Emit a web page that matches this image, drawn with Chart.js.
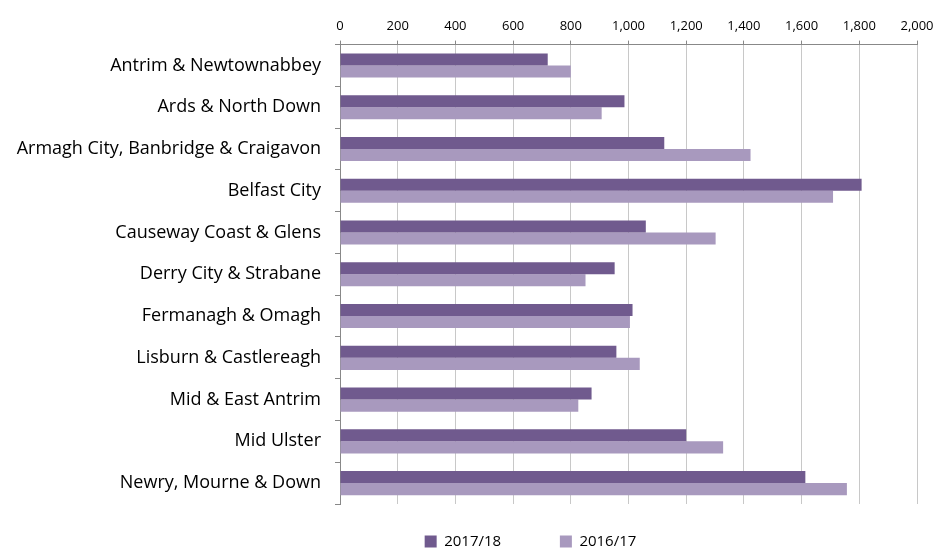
<!DOCTYPE html>
<html>
<head>
<meta charset="utf-8">
<script src="https://cdn.jsdelivr.net/npm/chart.js@4"></script>
<style>
  html, body { margin: 0; padding: 0; background: #fff; }
  #wrap { width: 935px; height: 549px; }
</style>
</head>
<body>
<div id="wrap"><canvas id="c"></canvas></div>
<script>
// Council areas, top to bottom as in the picture.
var COUNCILS = [
  "Antrim & Newtownabbey",
  "Ards & North Down",
  "Armagh City, Banbridge & Craigavon",
  "Belfast City",
  "Causeway Coast & Glens",
  "Derry City & Strabane",
  "Fermanagh & Omagh",
  "Lisburn & Castlereagh",
  "Mid & East Antrim",
  "Mid Ulster",
  "Newry, Mourne & Down"
];
var Y2017_18 = [720, 986, 1124, 1808, 1060, 952, 1014, 958, 872, 1200, 1613];
var Y2016_17 = [800, 907, 1423, 1709, 1302, 851, 1005, 1039, 826, 1328, 1757];
var X_MIN = 0, X_MAX = 2000, X_STEP = 200;

var FONT = "'Open Sans', 'Noto Sans', sans-serif";

// legend sits off-centre in the original, nudge it after layout
var LEGEND_DX = 63, LEGEND_DY = 18;
var legendNudge = {
  id: "legendNudge",
  afterLayout: function (chart) {
    var lg = chart.legend;
    if (!lg) return;
    lg.left += LEGEND_DX; lg.right += LEGEND_DX;
    lg.top += LEGEND_DY; lg.bottom += LEGEND_DY;
  }
};

new Chart(document.getElementById("c"), {
  type: "bar",
  data: {
    labels: COUNCILS,
    datasets: [
      { label: "2017/18", data: Y2017_18, backgroundColor: "#705a8e", borderWidth: 0 },
      { label: "2016/17", data: Y2016_17, backgroundColor: "#a899be", borderWidth: 0 }
    ]
  },
  plugins: [legendNudge],
  options: {
    indexAxis: "y",
    responsive: true,
    maintainAspectRatio: false,
    animation: false,
    categoryPercentage: 0.577,
    barPercentage: 1.0,
    layout: { padding: { left: 0, right: 0, top: 11, bottom: 8 } },
    scales: {
      x: {
        position: "top",
        min: X_MIN, max: X_MAX,
        afterFit: function (scale) { scale.paddingRight = 18; },
        ticks: {
          stepSize: X_STEP, color: "#000", padding: 7,
          font: { family: FONT, size: 13 },
          callback: function (v) { return v.toLocaleString("en-GB"); }
        },
        grid: { color: "#c8c8c8", lineWidth: 1, tickLength: 4, tickColor: "#888" },
        border: { display: true, color: "#888" }
      },
      y: {
        afterFit: function (scale) { scale.width = 340; },
        ticks: { color: "#000", padding: 14, font: { family: FONT, size: 18 } },
        grid: { drawOnChartArea: false, tickLength: 5, color: "#888" },
        border: { display: true, color: "#888" }
      }
    },
    plugins: {
      legend: {
        position: "bottom",
        labels: {
          boxWidth: 12, boxHeight: 12, padding: 12, color: "#000",
          font: { family: FONT, size: 15 },
          generateLabels: function (chart) {
            var items = Chart.defaults.plugins.legend.labels.generateLabels(chart);
            items.forEach(function (it, i) {
              if (i < items.length - 1) it.text = it.text + "\u00a0".repeat(12);
            });
            return items;
          }
        }
      },
      tooltip: { enabled: false }
    }
  }
});
</script>
</body>
</html>
